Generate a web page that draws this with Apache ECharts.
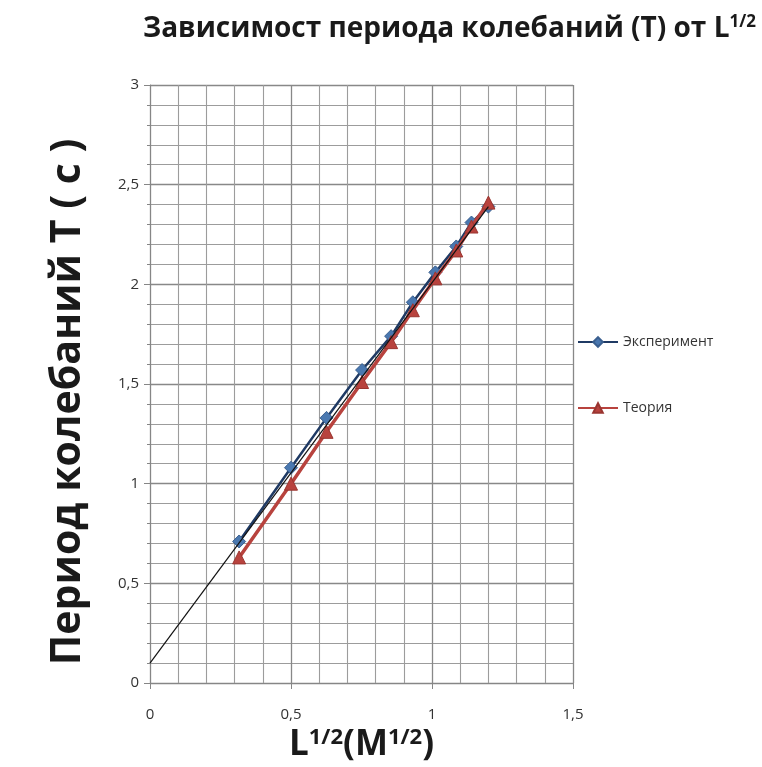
<!DOCTYPE html>
<html>
<head>
<meta charset="utf-8">
<script src="https://cdn.jsdelivr.net/npm/echarts@6/dist/echarts.min.js"></script>
<style>html,body{margin:0;padding:0;background:#fff}#c{width:762px;height:767px}</style>
</head>
<body>
<div id="c"></div>
<script>
// Data
const xValues = [0.316, 0.5, 0.626, 0.752, 0.855, 0.932, 1.012, 1.086, 1.14, 1.2];
const expT = [0.71, 1.08, 1.33, 1.57, 1.74, 1.91, 2.06, 2.19, 2.31, 2.39];
const theoryT = [0.63, 1.0, 1.26, 1.51, 1.71, 1.87, 2.03, 2.17, 2.29, 2.41];
const trendX = [0, 1.2];
const trendT = [0.1, 2.39];
const xTicks = [0, 0.5, 1, 1.5];
const yTicks = [0, 0.5, 1, 1.5, 2, 2.5, 3];
const seriesNames = ['Эксперимент', 'Теория'];

const pairs = (xs, ys) => xs.map((x, i) => [x, ys[i]]);
const fmt = v => String(v).replace('.', ',');

const chart = echarts.init(document.getElementById('c'));
const font = '"Open Sans", "Noto Sans", sans-serif';
chart.setOption({
  animation: false,
  backgroundColor: '#fff',
  title: {
    text: '{a|Зависимост периода колебаний (T) от L}{s|1/2}',
    left: 138, top: 9,
    textStyle: {
      rich: {
        a: { fontFamily: font, fontWeight: 'bold', fontSize: 28, color: '#1a1a1a' },
        s: { fontFamily: font, fontWeight: 'bold', fontSize: 17, color: '#1a1a1a', verticalAlign: 'top', padding: [0, 0, 13, 0] }
      }
    }
  },
  legend: {
    orient: 'vertical',
    left: 572, top: 330,
    itemGap: 52,
    itemWidth: 40, itemHeight: 12,
    textStyle: { fontFamily: font, fontSize: 14, color: '#333' },
    data: seriesNames
  },
  grid: { left: 150, top: 85, width: 423, height: 598, containLabel: false, outerBoundsMode: 'none' },
  xAxis: {
    type: 'value', min: 0, max: 1.5, interval: 0.5,
    name: '{a|L}{s|1/2}{a|(M}{s|1/2}{a|)}',
    nameLocation: 'middle', nameGap: 40,
    nameTextStyle: {
      rich: {
        a: { fontFamily: font, fontWeight: 'bold', fontSize: 35, color: '#1a1a1a' },
        s: { fontFamily: font, fontWeight: 'bold', fontSize: 22, color: '#1a1a1a', verticalAlign: 'top', padding: [0, 0, 14, 0] }
      }
    },
    axisLine: { show: true, onZero: false, lineStyle: { color: '#868686', width: 1 } },
    axisTick: { show: true, length: 6, lineStyle: { color: '#868686' } },
    minorTick: { show: false, splitNumber: 5 },
    axisLabel: { fontFamily: font, fontSize: 15, color: '#333', margin: 24, formatter: fmt,
      customValues: xTicks },
    splitLine: { show: true, lineStyle: { color: '#888', width: 1.3 } },
    minorSplitLine: { show: true, lineStyle: { color: '#9c9c9c', width: 1.1 } }
  },
  yAxis: {
    type: 'value', min: 0, max: 3, interval: 0.5,
    name: 'Период колебаний T ( c )',
    nameLocation: 'middle', nameRotate: 90, nameGap: 61,
    nameTextStyle: { fontFamily: font, fontWeight: 'bold', fontSize: 41, color: '#1a1a1a',
      padding: [0, 36, 0, 0] },
    axisLine: { show: true, lineStyle: { color: '#868686', width: 1 } },
    axisTick: { show: true, length: 6, lineStyle: { color: '#868686' } },
    minorTick: { show: true, splitNumber: 5, length: 3, lineStyle: { color: '#868686' } },
    axisLabel: { fontFamily: font, fontSize: 15, color: '#333', margin: 11, formatter: fmt,
      customValues: yTicks },
    splitLine: { show: true, lineStyle: { color: '#888', width: 1.3 } },
    minorSplitLine: { show: true, lineStyle: { color: '#9c9c9c', width: 1.1 } }
  },
  series: [
    {
      name: seriesNames[0], type: 'line', data: pairs(xValues, expT),
      symbol: 'diamond', symbolSize: 13,
      itemStyle: { color: '#4a78b0', borderColor: '#3a5f8f', borderWidth: 1 },
      lineStyle: { color: '#1f3a64', width: 2.5 },
      z: 3
    },
    {
      name: seriesNames[1], type: 'line', data: pairs(xValues, theoryT),
      symbol: 'triangle', symbolSize: 13,
      itemStyle: { color: '#b8433e', borderColor: '#9a3530', borderWidth: 1 },
      lineStyle: { color: '#b8433e', width: 3.5 },
      z: 4
    },
    {
      name: 'trend', type: 'line', data: pairs(trendX, trendT),
      symbol: 'none', lineStyle: { color: '#111', width: 1.2 },
      z: 5, silent: true
    }
  ]
});
</script>
</body>
</html>
